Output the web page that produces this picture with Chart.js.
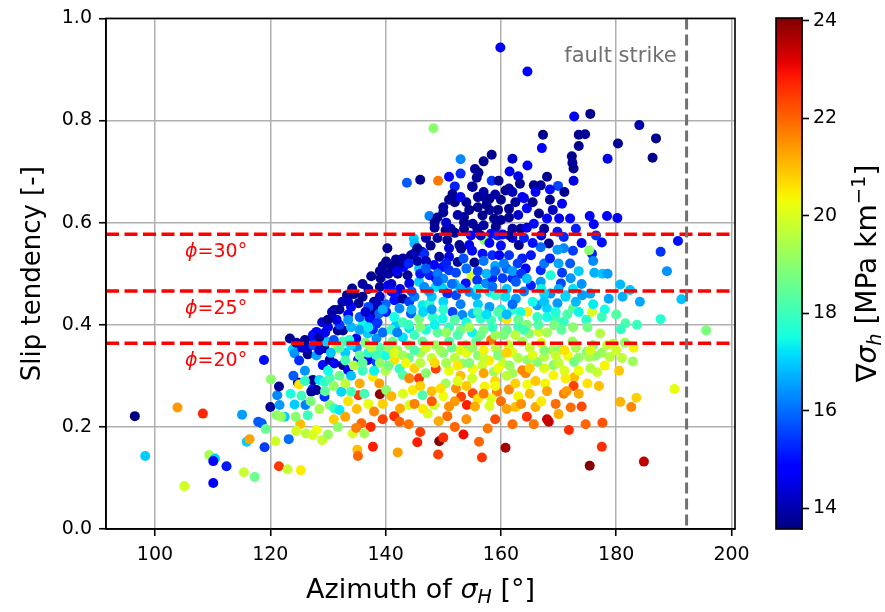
<!DOCTYPE html>
<html>
<head>
<meta charset="utf-8">
<script src="https://cdn.jsdelivr.net/npm/chart.js@4.4.1/dist/chart.umd.min.js"></script>
<style>
  html, body { margin: 0; padding: 0; background: #fff; }
  #wrap { position: relative; width: 885px; height: 612px; }
  #main { position: absolute; left: 0; top: 0; }
  #cbar { position: absolute; left: 760px; top: 0; }
</style>
</head>
<body>
<div id="wrap">
  <canvas id="main" width="760" height="612"></canvas>
  <canvas id="cbar" width="125" height="612"></canvas>
</div>
<script>
// --- Data: azimuth of sigma_H [deg], slip tendency [-], gradient of sigma_h [MPa/km] ---
const azimuth = [
  159.9,164.6,148.3,158.4,153.0,153.0,156.1,155.8,143.7,146.0,
  149.1,152.0,155.0,158.4,159.6,163.0,163.3,164.6,172.7,175.5,
  184.0,167.3,167.1,173.5,174.6,173.5,180.3,186.9,186.3,178.5,
  172.3,172.4,172.6,168.0,172.6,165.7,166.9,169.9,
  190.7,187.7,188.8,191.3,195.6,187.7,180.7,182.4,184.1,181.1,
  183.6,181.6,180.8,178.7,176.2,177.6,177.5,175.8,175.3,178.4,
  180.2,175.4,176.1,172.0,170.1,170.6,173.0,175.8,177.2,179.5,
  174.8,172.5,170.9,171.2,169.8,
  164.0,164.5,166.6,168.0,165.7,167.5,169.8,170.9,168.3,166.9,
  170.9,169.8,165.2,164.3,166.9,168.6,170.6,172.1,165.2,166.9,
  170.4,168.6,171.2,174.1,175.5,166.3,168.0,164.6,166.3,169.5,
  164.9,166.6,169.2,172.4,174.9,178.4,171.6,173.5,176.3,
  182.9,190.1,180.7,182.6,183.5,176.7,172.7,172.6,170.9,171.4,
  172.1,166.0,165.7,168.0,168.3,171.8,174.7,177.6,177.5,175.4,
  184.8,164.6,167.7,169.1,171.2,169.1,172.7,175.3,178.9,164.6,
  166.3,167.5,164.3,
  149.3,150.0,149.1,156.2,156.7,160.8,157.7,162.5,142.1,137.8,
  135.1,135.2,137.4,135.8,141.5,142.4,142.5,149.2,150.7,147.3,
  139.0,135.3,153.1,154.1,155.1,134.3,134.9,136.3,128.0,129.0,
  130.0,131.7,159.3,161.4,157.2,158.0,
  96.5,98.3,103.9,108.3,105.1,109.4,110.4,110.1,112.4,110.1,
  115.4,117.3,115.1,115.9,116.4,119.0,117.9,118.5,119.2,120.1,
  118.9,120.0,120.9,123.2,121.5,123.0,125.3,121.2,121.6,122.5,
  124.8,125.0,121.5,125.2,124.2,126.1,121.1,121.9,124.4,126.5,
  124.5,126.2,127.4,125.4,127.4,123.4,123.9,124.2,126.5,127.4,
  147.6,144.9,145.0,146.3,146.7,144.4,140.1,141.8,143.1,142.1,
  139.1,139.0,143.8,144.1,134.2,133.3,135.3,131.1,130.7,138.1,
  137.5,138.9,138.6,141.7,142.1,140.4,128.0,127.3,131.7,132.6,
  129.4,131.4,134.9,136.9,137.8,151.6,155.1,158.0,157.4,160.8,
  161.4,163.7,161.4,156.8,153.6,153.6,155.1,158.8,160.0,161.4,
  150.4,151.3,153.6,155.9,159.1,162.0,163.4,154.8,158.3,159.4,
  160.3,150.7,152.8,153.1,154.5,157.1,156.8,158.5,159.7,161.4,
  163.7,162.9,163.1,149.3,151.0,152.5,148.4,149.9,155.4,145.8,
  147.6,148.7,151.0,152.2,154.9,153.9,155.9,157.4,158.5,160.3,
  162.0,162.6,145.8,146.7,148.7,149.9,150.7,152.2,154.5,155.7,
  158.0,159.1,160.8,162.6,141.5,143.0,144.1,146.4,147.6,140.1,
  142.4,144.4,145.8,148.2,149.9,151.6,153.3,155.1,156.5,158.3,
  160.3,161.0,162.0,163.4,141.8,144.1,137.2,138.4,129.7,132.6,
  133.7,138.4,141.2,144.1,146.4,148.7,151.0,153.9,155.7,158.3,
  159.1,161.4,163.7,
  127.4,128.0,127.1,129.4,129.1,130.3,131.1,132.6,133.5,135.2,
  136.9,138.4,128.5,129.4,130.3,130.3,131.1,132.0,132.3,134.0,
  135.5,136.3,137.8,138.9,140.1,141.5,142.4,143.0,144.1,145.8,
  144.7,146.4,144.1,148.7,150.4,152.2,153.3,155.1,156.8,158.8,
  160.3,162.0,163.7,158.3,148.4,
  132,134,136,133,135,137,139,140,139.5,141,
  143,145,147,149,151,153,155,157,159,161,
  163,142,144,146,148,150,152,154,156,158,
  160,162,140,145,147,151,153,155,157,159,
  161,146,148,150,152,156,160,163,130,132,
  134,136,138,126,125,126.5,128,140,139,145,
  148,150,153,156,158,160,162,150,152,147,
  151,155,157,159,161,158,160,162,164,156,
  158,160,154,157,165.5,167.5,165,167,169,171,
  166,168,170,176,180,178,140.3,139.5,
  148.5,150.0,152.0,152.5,154.5,156.0,157.5,159.0,159.5,162.5,
  163.0,165.5,166.0,168.5,169.0,171.0,168.5,162.0,149.0,147.8,
  150.5,157.0,152.0,156.5,161.5,164.5,165.5,167.0,153.0,155.5,
  151.0,161.5,157.0,162.0,
  136.0,137.0,138.0,140.5,141.0,142.5,145.0,145.5,146.0,147.0,
  149.0,150.5,153.5,154.0,156.0,157.5,159.0,160.5,162.0,163.5,
  164.5,167.5,168.5,170.0,172.0,173.5,174.0,172.5,170.0,167.0,
  164.0,161.0,158.5,156.0,153.0,151.5,149.0,147.5,144.5,142.5,
  141.0,138.5,137.0,
  129.0,130.0,131.5,133.5,133.5,135.5,136.5,134.0,132.5,139.5,
  141.5,143.0,144.5,146.5,148.0,150.0,152.0,154.0,156.0,157.5,
  159.5,161.0,163.0,164.5,166.5,168.0,167.5,169.5,171.5,173.5,
  173.0,176.0,177.5,175.0,172.5,170.5,168.0,146.0,148.5,150.5,
  152.5,154.5,156.5,158.5,160.5,162.5,164.0,142.0,144.0,135.5,
  137.0,
  127.5,128.5,130.5,131.0,132.0,134.0,135.5,136.5,137.5,138.5,
  140.5,141.5,143.0,145.0,147.0,149.5,151.5,153.0,155.0,157.0,
  159.5,161.0,163.0,165.5,167.5,169.5,171.0,173.0,175.5,177.5,
  180.0,181.5,183.0,181.0,133.0,134.5,136.0,139.0,140.5,143.5,
  146.0,148.5,150.5,152.5,154.5,157.0,159.5,161.5,165.0,167.5,
  170.0,173.5,175.5,178.0,180.5,
  123.5,124.0,126.0,127.0,128.5,129.5,131.0,133.0,133.5,135.0,
  137.0,138.0,139.5,141.0,143.0,145.0,146.5,148.0,149.5,151.0,
  152.5,154.0,155.5,157.0,159.0,161.0,162.5,163.5,165.0,167.0,
  169.5,173.5,175.0,177.0,174.0,
  131.0,133.0,139.5,144.0,146.0,152.0,154.0,159.0,162.0,164.5,
  170.0,145.5,153.5,
  124.5,125.5,126.0,128.5,129.5,130.0,132.0,133.5,134.5,136.0,
  137.5,139.0,141.0,143.0,145.5,147.0,148.5,149.0,150.0,151.0,
  142.0,144.0,
  172.5,174.0,176.5,176.0,178.5
];

const slipTendency = [
  0.943,0.896,0.785,0.733,0.724,0.696,0.698,0.688,0.678,0.684,
  0.682,0.671,0.671,0.682,0.682,0.691,0.676,0.712,0.808,0.813,
  0.791,0.772,0.746,0.772,0.773,0.750,0.755,0.765,0.727,0.725,
  0.730,0.717,0.706,0.690,0.682,0.673,0.673,0.672,
  0.564,0.543,0.505,0.450,0.389,0.411,0.479,0.468,0.445,0.455,
  0.400,0.403,0.391,0.451,0.502,0.500,0.561,0.539,0.546,0.613,
  0.609,0.613,0.597,0.608,0.608,0.637,0.588,0.425,0.383,0.363,
  0.410,0.432,0.406,0.455,0.442,
  0.648,0.628,0.618,0.608,0.598,0.588,0.582,0.572,0.559,0.552,
  0.550,0.547,0.536,0.510,0.507,0.497,0.502,0.491,0.477,0.484,
  0.481,0.461,0.458,0.458,0.461,0.438,0.432,0.425,0.415,0.412,
  0.383,0.386,0.399,0.367,0.347,0.360,0.339,0.336,0.339,
  0.328,0.274,0.249,0.239,0.257,0.307,0.297,0.280,0.265,0.270,
  0.238,0.239,0.205,0.215,0.210,0.194,0.205,0.208,0.161,0.124,
  0.132,0.283,0.285,0.301,0.295,0.321,0.327,0.337,0.337,0.331,
  0.327,0.337,0.305,
  0.172,0.179,0.146,0.171,0.140,0.159,0.197,0.239,0.150,0.161,
  0.155,0.143,0.200,0.207,0.221,0.210,0.236,0.211,0.221,0.226,
  0.264,0.262,0.259,0.243,0.266,0.187,0.198,0.187,0.194,0.174,
  0.185,0.200,0.269,0.273,0.279,0.241,
  0.221,0.143,0.238,0.226,0.084,0.145,0.138,0.133,0.123,0.090,
  0.111,0.102,0.224,0.171,0.176,0.160,0.210,0.207,0.196,0.293,
  0.331,0.239,0.172,0.176,0.123,0.117,0.115,0.262,0.243,0.220,
  0.287,0.283,0.279,0.205,0.244,0.243,0.223,0.220,0.220,0.223,
  0.192,0.187,0.184,0.261,0.275,0.373,0.352,0.344,0.342,0.380,
  0.613,0.569,0.559,0.543,0.539,0.536,0.524,0.528,0.513,0.500,
  0.491,0.474,0.497,0.481,0.471,0.458,0.442,0.429,0.425,0.427,
  0.419,0.422,0.405,0.458,0.451,0.477,0.386,0.376,0.389,0.389,
  0.354,0.354,0.373,0.383,0.391,0.656,0.670,0.647,0.647,0.663,
  0.667,0.650,0.627,0.614,0.611,0.601,0.598,0.608,0.605,0.610,
  0.585,0.588,0.588,0.588,0.592,0.588,0.588,0.575,0.578,0.575,
  0.577,0.566,0.556,0.549,0.556,0.566,0.539,0.536,0.536,0.536,
  0.530,0.520,0.556,0.533,0.533,0.523,0.517,0.513,0.522,0.510,
  0.497,0.491,0.507,0.502,0.494,0.481,0.487,0.481,0.491,0.491,
  0.491,0.484,0.484,0.474,0.474,0.471,0.461,0.458,0.464,0.458,
  0.464,0.458,0.455,0.451,0.448,0.451,0.445,0.438,0.441,0.425,
  0.432,0.422,0.412,0.415,0.412,0.425,0.419,0.422,0.412,0.409,
  0.415,0.411,0.429,0.425,0.399,0.393,0.412,0.402,0.367,0.367,
  0.370,0.373,0.367,0.360,0.367,0.360,0.367,0.360,0.367,0.370,
  0.354,0.360,0.367,
  0.292,0.272,0.269,0.259,0.321,0.331,0.324,0.321,0.311,0.331,
  0.331,0.327,0.292,0.288,0.295,0.243,0.236,0.233,0.269,0.269,
  0.285,0.265,0.298,0.285,0.272,0.331,0.314,0.301,0.295,0.295,
  0.272,0.262,0.243,0.314,0.285,0.275,0.324,0.314,0.321,0.308,
  0.324,0.305,0.311,0.256,0.243,
  0.400,0.395,0.400,0.345,0.355,0.345,0.355,0.340,0.385,0.390,
  0.375,0.380,0.390,0.385,0.395,0.390,0.385,0.390,0.380,0.390,
  0.395,0.350,0.335,0.345,0.335,0.345,0.335,0.345,0.340,0.330,
  0.340,0.345,0.310,0.315,0.305,0.310,0.300,0.295,0.305,0.290,
  0.300,0.280,0.270,0.260,0.250,0.255,0.250,0.260,0.310,0.300,
  0.300,0.310,0.310,0.310,0.330,0.355,0.340,0.440,0.455,0.455,
  0.455,0.445,0.440,0.440,0.435,0.430,0.440,0.490,0.480,0.525,
  0.550,0.545,0.525,0.515,0.510,0.560,0.555,0.570,0.570,0.630,
  0.625,0.645,0.640,0.660,0.445,0.460,0.355,0.365,0.350,0.310,
  0.290,0.270,0.350,0.360,0.420,0.430,0.550,0.515,
  0.600,0.620,0.640,0.615,0.625,0.650,0.635,0.655,0.625,0.640,
  0.615,0.640,0.660,0.645,0.625,0.660,0.665,0.660,0.570,0.555,
  0.600,0.595,0.580,0.575,0.575,0.590,0.560,0.575,0.650,0.705,
  0.690,0.700,0.720,0.725,
  0.455,0.470,0.445,0.500,0.480,0.520,0.540,0.525,0.500,0.510,
  0.500,0.520,0.530,0.510,0.505,0.500,0.505,0.520,0.505,0.500,
  0.490,0.520,0.530,0.520,0.520,0.505,0.480,0.470,0.470,0.470,
  0.465,0.470,0.475,0.470,0.470,0.480,0.485,0.465,0.465,0.470,
  0.465,0.440,0.435,
  0.405,0.395,0.410,0.420,0.410,0.415,0.425,0.435,0.445,0.430,
  0.415,0.405,0.430,0.425,0.430,0.430,0.410,0.405,0.425,0.420,
  0.425,0.420,0.410,0.400,0.400,0.415,0.445,0.425,0.420,0.425,
  0.445,0.440,0.415,0.395,0.395,0.390,0.385,0.395,0.400,0.385,
  0.380,0.395,0.380,0.395,0.380,0.380,0.390,0.385,0.400,0.390,
  0.395,
  0.360,0.350,0.345,0.370,0.355,0.360,0.340,0.365,0.355,0.340,
  0.355,0.345,0.340,0.350,0.355,0.350,0.355,0.350,0.355,0.350,
  0.340,0.345,0.335,0.340,0.350,0.340,0.350,0.355,0.350,0.345,
  0.350,0.365,0.355,0.335,0.330,0.320,0.325,0.325,0.320,0.325,
  0.325,0.325,0.325,0.320,0.325,0.335,0.315,0.320,0.315,0.315,
  0.325,0.310,0.315,0.320,0.310,
  0.265,0.300,0.290,0.250,0.235,0.270,0.280,0.285,0.250,0.235,
  0.245,0.230,0.245,0.260,0.265,0.245,0.235,0.250,0.275,0.240,
  0.290,0.280,0.240,0.265,0.280,0.235,0.285,0.245,0.265,0.250,
  0.245,0.265,0.285,0.280,0.240,
  0.215,0.220,0.215,0.205,0.190,0.200,0.215,0.215,0.205,0.220,
  0.225,0.170,0.185,
  0.365,0.355,0.370,0.375,0.385,0.410,0.430,0.445,0.460,0.480,
  0.495,0.505,0.515,0.530,0.550,0.570,0.590,0.610,0.630,0.645,
  0.505,0.520,
  0.545,0.560,0.575,0.525,0.500
];

const gradient = [
  14.8,14.8,19.0,13.7,16.3,15.3,13.7,13.8,15.8,13.7,
  21.8,15.2,13.8,15.4,13.7,14.6,13.7,14.7,14.6,13.7,
  14.0,13.7,14.8,13.7,13.8,13.7,13.8,13.7,13.7,14.6,
  13.7,13.8,13.7,13.7,14.5,13.7,13.8,15.6,
  15.0,15.4,16.4,16.9,18.8,17.7,16.8,16.9,16.6,16.7,
  18.0,18.2,17.9,16.6,16.7,16.9,15.0,15.2,19.0,14.8,
  14.9,14.7,14.9,14.8,14.6,14.7,15.2,20.0,19.5,19.6,
  17.8,18.5,17.9,17.0,16.5,
  14.2,14.8,13.7,14.9,15.0,13.8,15.1,15.3,13.7,16.0,
  16.3,16.5,15.1,14.9,15.3,17.6,15.5,16.4,15.2,16.5,
  15.6,16.4,17.1,16.5,16.6,16.5,17.1,20.5,17.9,18.1,
  19.0,19.9,18.8,19.2,18.9,19.8,20.3,19.1,19.0,
  19.2,20.2,21.1,21.6,20.8,19.8,21.0,22.4,21.7,21.4,
  21.9,21.2,21.8,23.3,23.4,22.6,22.0,22.2,22.6,24.0,
  23.5,20.3,20.4,20.4,20.5,19.0,18.7,19.4,19.6,19.1,
  18.9,19.5,21.6,
  24.0,22.6,22.4,22.0,22.5,23.7,21.8,21.0,21.3,22.8,
  21.0,22.0,22.7,22.0,22.6,22.0,21.2,21.2,21.9,20.0,
  23.9,22.5,22.4,22.8,22.3,20.0,21.7,19.3,20.3,19.8,
  19.2,19.0,21.7,21.6,20.4,20.0,
  13.6,17.0,21.4,22.7,19.9,19.4,17.0,14.9,15.1,14.8,
  19.8,18.6,16.5,17.0,21.3,15.5,15.8,15.8,18.5,19.0,
  15.0,13.8,19.9,16.0,22.5,19.8,20.5,16.3,16.5,17.0,
  13.7,20.6,13.8,21.0,17.0,16.2,19.0,19.2,19.0,18.0,
  19.9,19.6,20.0,18.0,15.2,13.7,17.1,16.4,13.7,14.8,
  16.2,17.0,16.8,15.0,15.3,13.7,13.7,13.8,14.8,13.7,
  13.7,13.8,13.8,14.6,13.7,13.8,13.7,13.7,14.0,13.7,
  13.8,15.9,15.6,14.8,15.2,14.7,14.8,15.0,13.7,13.8,
  13.7,19.8,14.6,17.0,15.3,13.7,13.8,13.7,13.8,13.7,
  13.8,14.7,13.7,13.7,13.8,13.7,13.8,13.7,13.8,13.7,
  13.7,13.9,13.7,13.8,13.7,13.8,13.7,14.8,14.9,15.2,
  14.8,13.7,13.8,13.7,14.6,19.0,15.0,15.3,14.8,15.4,
  15.2,15.5,13.7,13.7,14.5,13.8,14.7,15.0,13.7,16.9,
  15.2,14.8,15.4,15.6,20.0,15.0,15.4,16.3,15.2,15.5,
  15.3,15.8,17.0,16.3,17.2,17.0,15.3,15.6,16.4,16.6,
  17.3,17.8,17.2,16.5,15.0,13.8,15.5,17.3,17.8,15.2,
  16.3,15.8,18.8,17.8,17.5,15.6,16.3,16.8,17.9,18.1,
  17.7,20.6,17.9,17.5,17.0,17.2,15.0,15.4,17.0,18.0,
  17.8,16.4,18.6,18.9,18.5,19.2,18.2,18.9,18.4,21.8,
  19.6,19.9,19.3,
  13.7,13.8,13.9,15.4,15.0,13.8,14.7,13.7,14.9,15.2,
  14.8,15.6,17.2,17.8,18.2,19.0,17.8,17.3,17.1,18.0,
  21.2,18.1,20.5,21.4,19.0,20.6,17.9,18.3,21.6,22.5,
  20.5,18.2,20.0,22.4,19.3,21.5,19.0,20.3,19.8,19.2,
  19.8,19.3,21.6,20.1,19.9,
  15.5,16.8,17.5,17.0,16.3,17.7,18.3,17.5,16.0,17.8,
  17.2,18.0,17.6,18.4,17.9,18.7,17.4,18.9,19.2,18.5,
  18.0,19.2,18.6,19.4,19.8,18.8,19.6,20.2,19.0,20.5,
  19.5,20.0,19.5,20.8,19.0,20.2,21.0,19.9,21.3,20.7,
  19.6,20.8,21.0,20.3,21.4,20.6,21.9,20.4,17.5,18.6,
  16.9,18.0,17.4,16.4,15.3,14.2,16.6,15.9,14.2,16.1,
  16.9,17.1,16.2,17.0,16.5,17.4,16.0,16.3,16.8,14.1,
  14.3,14.9,16.1,16.6,15.9,14.7,15.0,14.4,15.2,13.7,
  13.8,13.7,13.7,13.9,17.5,17.1,19.8,20.2,19.4,20.0,
  20.9,21.3,19.0,18.8,18.3,17.5,13.7,13.8,
  13.7,13.8,13.7,14.0,13.7,13.8,13.7,13.9,13.7,13.8,
  14.3,13.7,14.8,13.8,14.2,13.7,15.0,14.1,13.8,13.7,
  14.3,13.9,13.7,14.2,13.8,14.5,15.0,14.4,14.6,13.8,
  14.9,14.6,13.7,14.2,
  13.7,14.0,13.8,13.9,14.3,13.7,14.1,13.9,15.1,15.8,
  16.1,15.2,15.7,16.0,15.5,16.8,15.9,16.2,16.5,15.4,
  16.9,16.1,15.2,16.6,15.8,17.0,16.4,17.2,16.7,17.4,
  16.2,16.9,16.0,17.4,16.6,16.0,15.8,16.5,15.7,14.5,
  15.0,14.1,15.6,
  14.2,14.9,14.5,14.8,16.5,15.8,14.3,14.9,14.0,16.7,
  17.5,18.1,16.8,17.1,16.5,17.8,18.3,17.6,18.0,17.2,
  18.2,16.8,18.5,18.9,18.3,17.5,16.9,17.6,18.2,17.4,
  16.8,17.3,18.0,18.7,19.0,18.4,19.3,18.9,17.4,19.1,
  18.2,19.4,18.6,17.9,18.8,19.6,18.1,16.2,17.9,16.6,
  17.3,
  15.6,14.3,16.9,15.7,18.3,17.2,18.5,18.9,19.5,18.0,
  19.0,20.1,19.3,18.2,19.9,19.3,18.6,20.0,19.1,20.4,
  18.9,20.8,19.5,20.1,19.0,19.8,20.6,19.4,20.0,19.2,
  19.9,19.1,20.4,19.6,18.1,19.5,18.4,19.1,18.7,20.3,
  19.6,20.7,19.4,20.5,18.9,19.8,20.3,19.2,20.8,20.0,
  19.7,20.3,19.5,20.4,20.9,
  17.6,15.8,17.9,18.8,19.4,18.4,19.1,19.7,20.6,21.0,
  20.2,21.6,20.8,21.1,20.1,21.7,20.5,22.1,20.6,21.5,
  20.1,20.9,21.2,21.7,20.3,21.3,20.8,21.5,21.0,20.5,
  21.9,21.2,20.6,21.0,22.3,
  20.8,21.3,22.4,21.8,22.5,22.0,21.5,22.3,21.9,22.6,
  21.2,22.8,23.0,
  13.9,14.3,13.7,13.8,14.6,13.7,13.8,14.2,13.7,13.9,
  13.7,13.8,13.7,13.9,13.7,14.0,13.8,13.7,13.9,13.7,
  14.6,15.2,
  15.5,14.9,15.4,16.3,16.5
];

// friction angles for the reference lines (slip tendency = tan(phi))
const frictionAngles = [20, 25, 30];
const faultStrike = 192.2;

const xTicks = [100, 120, 140, 160, 180, 200];
const yTicks = [0.0, 0.2, 0.4, 0.6, 0.8, 1.0];
const cbTicks = [14, 16, 18, 20, 22, 24];

const X_MIN = 91.5, X_MAX = 200.6;
const CB_MIN = 13.57, CB_MAX = 24.06;

const FONT = 'DejaVu Sans';

// --- jet colormap (same breakpoints as matplotlib) ---
const JET = {
  r: [[0, 0], [0.35, 0], [0.66, 1], [0.89, 1], [1, 0.5]],
  g: [[0, 0], [0.125, 0], [0.375, 1], [0.64, 1], [0.91, 0], [1, 0]],
  b: [[0, 0.5], [0.11, 1], [0.34, 1], [0.65, 0], [1, 0]]
};

function channel(pts, t) {
  for (let i = 1; i < pts.length; i++) {
    if (t <= pts[i][0]) {
      const [x0, y0] = pts[i - 1], [x1, y1] = pts[i];
      return y0 + (y1 - y0) * (t - x0) / (x1 - x0);
    }
  }
  return pts[pts.length - 1][1];
}

function jetAt(t) {
  t = Math.min(1, Math.max(0, t));
  const r = Math.round(255 * channel(JET.r, t));
  const g = Math.round(255 * channel(JET.g, t));
  const b = Math.round(255 * channel(JET.b, t));
  return `rgb(${r},${g},${b})`;
}

function jetColor(v) {
  return jetAt((v - CB_MIN) / (CB_MAX - CB_MIN));
}

// draws a line of text made of several runs (italic symbols, sub/superscripts), centred on x
function drawRich(ctx, parts, x, y, rotate, color) {
  ctx.save();
  ctx.translate(x, y);
  if (rotate) ctx.rotate(-Math.PI / 2);
  let total = 0;
  parts.forEach(p => { ctx.font = p.font; p.w = ctx.measureText(p.text).width; total += p.w; });
  let cx = -total / 2;
  ctx.textAlign = 'left';
  ctx.textBaseline = 'alphabetic';
  ctx.fillStyle = color || '#000';
  parts.forEach(p => {
    ctx.font = p.font;
    ctx.fillText(p.text, cx, p.dy || 0);
    cx += p.w;
  });
  ctx.restore();
}

// --- overlays: friction lines, fault strike, frame, axis titles ---
const overlayPlugin = {
  id: 'overlay',
  afterDatasetsDraw(chart) {
    const { ctx, chartArea: a, scales: { x, y } } = chart;
    ctx.save();

    // friction-angle lines
    ctx.strokeStyle = '#ff0000';
    ctx.lineWidth = 3.5;
    ctx.setLineDash([13, 5.5]);
    frictionAngles.forEach(phi => {
      const py = y.getPixelForValue(Math.tan(phi * Math.PI / 180));
      ctx.beginPath();
      ctx.moveTo(a.left, py);
      ctx.lineTo(a.right, py);
      ctx.stroke();
    });

    // fault strike
    const fx = x.getPixelForValue(faultStrike);
    ctx.strokeStyle = '#707070';
    ctx.lineWidth = 3;
    ctx.setLineDash([11, 5]);
    ctx.beginPath();
    ctx.moveTo(fx, a.top);
    ctx.lineTo(fx, a.bottom);
    ctx.stroke();
    ctx.setLineDash([]);

    // frame
    ctx.strokeStyle = '#000';
    ctx.lineWidth = 1.6;
    ctx.strokeRect(a.left, a.top, a.right - a.left, a.bottom - a.top);

    // labels for the friction lines
    frictionAngles.forEach(phi => {
      const py = y.getPixelForValue(Math.tan(phi * Math.PI / 180) - 0.031);
      drawRich(ctx, [
        { text: 'ϕ', font: `italic 19px ${FONT}` },
        { text: `=${phi}°`, font: `19px ${FONT}` }
      ], x.getPixelForValue(110.6), py + 7, false, '#ff0000');
    });

    ctx.font = `21px ${FONT}`;
    ctx.fillStyle = '#707070';
    ctx.textAlign = 'right';
    ctx.textBaseline = 'middle';
    ctx.fillText('fault strike', fx - 10, 57);
    ctx.restore();
  },
  afterDraw(chart) {
    const { ctx, chartArea: a } = chart;
    drawRich(ctx, [
      { text: 'Azimuth of ', font: `27px ${FONT}` },
      { text: 'σ', font: `italic 27px ${FONT}` },
      { text: 'H', font: `italic 19px ${FONT}`, dy: 5 },
      { text: ' [°]', font: `27px ${FONT}` }
    ], (a.left + a.right) / 2, 598, false);
    drawRich(ctx, [
      { text: 'Slip tendency [-]', font: `26px ${FONT}` }
    ], 40, (a.top + a.bottom) / 2, true);
  }
};

const tickFont = { family: FONT, size: 19 };

const mainChart = new Chart(document.getElementById('main'), {
  type: 'scatter',
  data: {
    datasets: [{
      data: azimuth.map((az, i) => ({ x: az, y: slipTendency[i] })),
      pointBackgroundColor: gradient.map(jetColor),
      pointBorderWidth: 0,
      pointRadius: 5,
      pointHoverRadius: 5
    }]
  },
  options: {
    responsive: false,
    animation: false,
    devicePixelRatio: 1,
    layout: { padding: { top: 18, right: 25, left: 0, bottom: 0 } },
    plugins: { legend: { display: false }, tooltip: { enabled: false } },
    scales: {
      x: {
        type: 'linear', min: X_MIN, max: X_MAX,
        afterFit(s) { s.height = 83; },
        afterBuildTicks(s) { s.ticks = xTicks.map(v => ({ value: v })); },
        ticks: { font: tickFont, color: '#000', padding: 8, maxRotation: 0 },
        grid: { color: '#b0b0b0', lineWidth: 1.5, tickColor: '#000', tickLength: 7, tickWidth: 1.6 },
        border: { color: '#000', width: 1.6 }
      },
      y: {
        type: 'linear', min: 0, max: 1,
        afterFit(s) { s.width = 106; },
        afterBuildTicks(s) { s.ticks = yTicks.map(v => ({ value: v })); },
        ticks: { font: tickFont, color: '#000', padding: 7, callback: v => v.toFixed(1) },
        grid: { color: '#b0b0b0', lineWidth: 1.5, tickColor: '#000', tickLength: 7, tickWidth: 1.6 },
        border: { color: '#000', width: 1.6 }
      }
    }
  },
  plugins: [overlayPlugin]
});

// --- colour bar ---
const colorbarPlugin = {
  id: 'colorbar',
  beforeDatasetsDraw(chart) {
    const { ctx, chartArea: a } = chart;
    const grad = ctx.createLinearGradient(0, a.bottom, 0, a.top);
    for (let i = 0; i <= 64; i++) grad.addColorStop(i / 64, jetAt(i / 64));
    ctx.save();
    ctx.fillStyle = grad;
    ctx.fillRect(a.left, a.top, a.right - a.left, a.bottom - a.top);
    ctx.strokeStyle = '#000';
    ctx.lineWidth = 1.6;
    ctx.strokeRect(a.left, a.top, a.right - a.left, a.bottom - a.top);
    ctx.restore();
  },
  afterDraw(chart) {
    const { ctx, chartArea: a } = chart;
    drawRich(ctx, [
      { text: '∇', font: `28px ${FONT}` },
      { text: 'σ', font: `italic 28px ${FONT}` },
      { text: 'h', font: `italic 19.5px ${FONT}`, dy: 5 },
      { text: ' [MPa km', font: `28px ${FONT}` },
      { text: '−1', font: `19.5px ${FONT}`, dy: -11 },
      { text: ']', font: `28px ${FONT}` }
    ], 116, (a.top + a.bottom) / 2, true);
  }
};

const cbarChart = new Chart(document.getElementById('cbar'), {
  type: 'scatter',
  data: { datasets: [] },
  options: {
    responsive: false,
    animation: false,
    devicePixelRatio: 1,
    layout: { padding: { top: 18, right: 0, left: 16, bottom: 83 } },
    plugins: { legend: { display: false }, tooltip: { enabled: false } },
    scales: {
      x: { display: false, min: 0, max: 1 },
      y: {
        position: 'right', min: CB_MIN, max: CB_MAX,
        afterFit(s) { s.width = 83; },
        afterBuildTicks(s) { s.ticks = cbTicks.map(v => ({ value: v })); },
        ticks: { font: tickFont, color: '#000', padding: 4 },
        grid: { drawOnChartArea: false, tickColor: '#000', tickLength: 7, tickWidth: 1.6 },
        border: { color: '#000', width: 1.6 }
      }
    }
  },
  plugins: [colorbarPlugin]
});
</script>
</body>
</html>
